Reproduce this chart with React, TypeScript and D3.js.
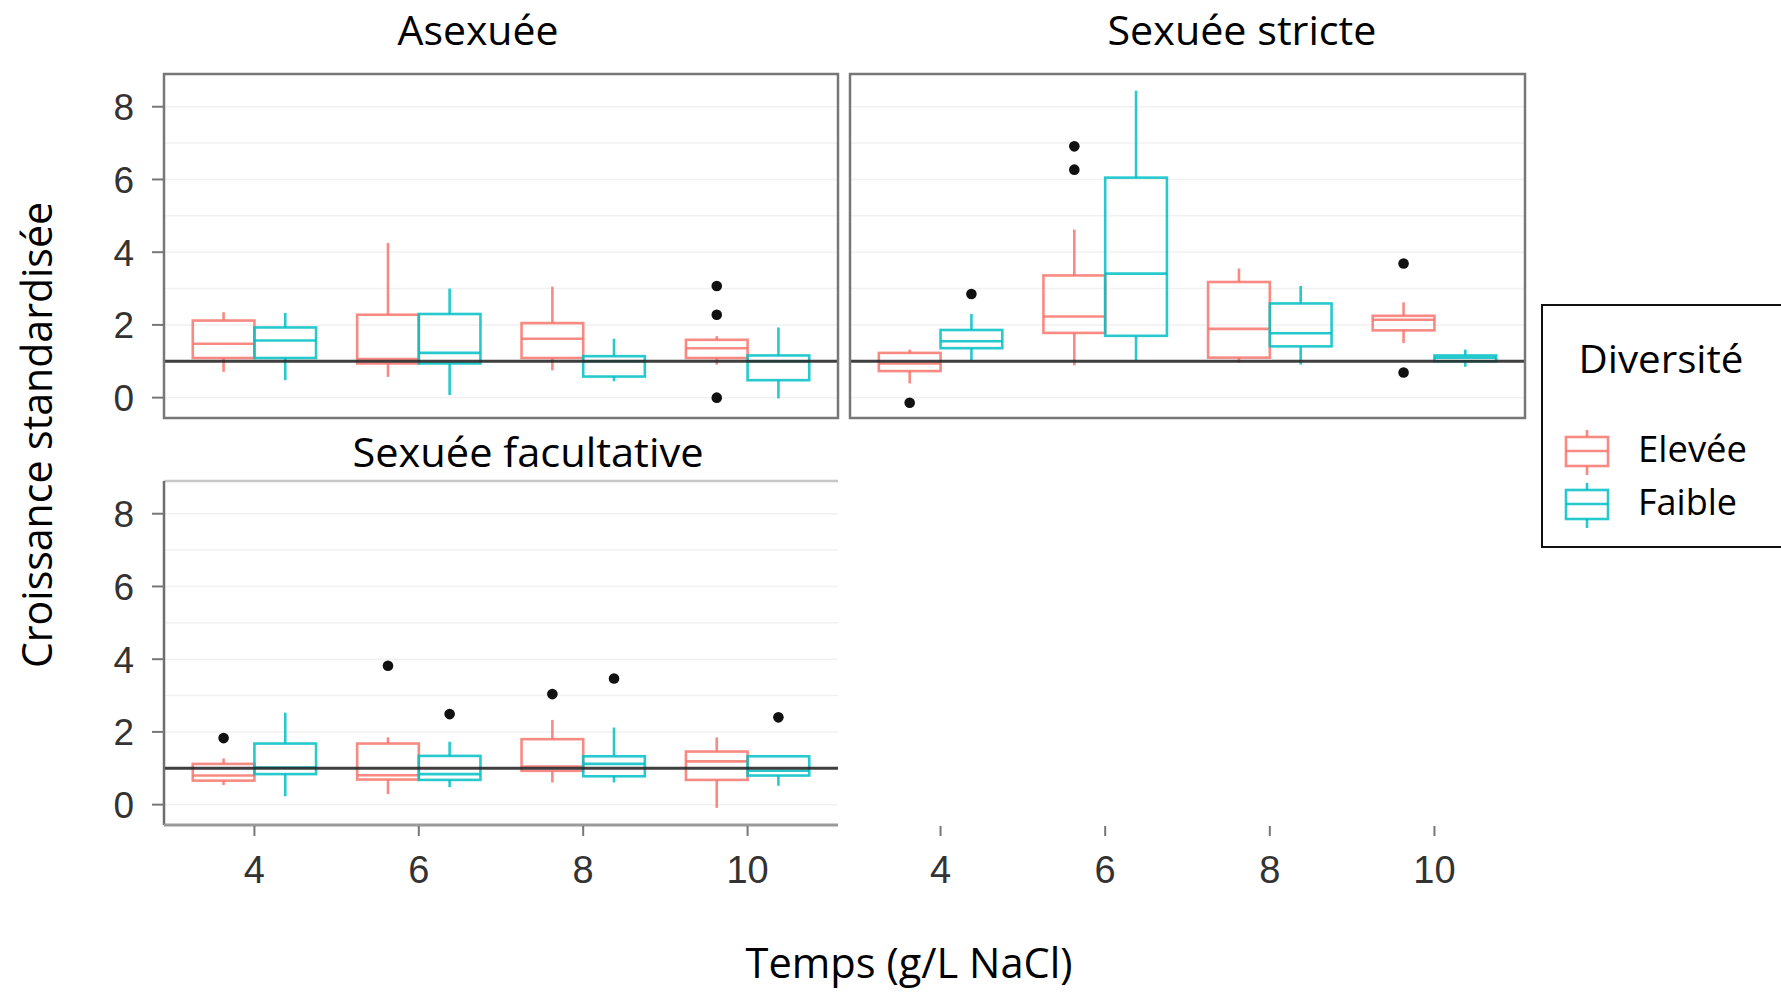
import React from 'react';
import * as d3 from 'd3';

const categories = ['4', '6', '8', '10'];
const groups = ['Elevée', 'Faible'];
const groupColors = ['#F8766D', '#00BFC4'];
const yTicks = [0, 2, 4, 6, 8];
const gridValues = [0, 1, 2, 3, 4, 5, 6, 7, 8];
const panelTitles = ['Asexuée', 'Sexuée stricte', 'Sexuée facultative'];
const refValue = 1;

// [lowerWhisker, q1, median, q3, upperWhisker] per category
const asexElevee = [[0.71, 1.09, 1.48, 2.12, 2.35], [0.57, 0.94, 1.06, 2.28, 4.25], [0.75, 1.09, 1.62, 2.05, 3.05], [0.91, 1.09, 1.36, 1.59, 1.69]];
const asexFaible = [[0.48, 1.09, 1.57, 1.93, 2.33], [0.07, 0.94, 1.23, 2.3, 3.0], [0.45, 0.58, 1.0, 1.14, 1.62], [-0.02, 0.48, 1.0, 1.16, 1.93]];
const asexOutElevee = [[], [], [], [3.07, 2.28, 0.0]];
const asexOutFaible = [[], [], [], []];

const strictElevee = [[0.39, 0.73, 0.94, 1.23, 1.32], [0.89, 1.78, 2.23, 3.36, 4.62], [0.96, 1.1, 1.89, 3.18, 3.55], [1.5, 1.85, 2.14, 2.25, 2.62]];
const strictFaible = [[1.03, 1.36, 1.55, 1.86, 2.3], [1.03, 1.7, 3.41, 6.05, 8.44], [0.91, 1.41, 1.77, 2.59, 3.07], [0.85, 1.0, 1.1, 1.16, 1.32]];
const strictOutElevee = [[-0.14], [6.91, 6.27], [], [3.69, 0.69]];
const strictOutFaible = [[2.85], [], [], []];

const facElevee = [[0.54, 0.66, 0.8, 1.12, 1.27], [0.29, 0.69, 0.81, 1.68, 1.85], [0.61, 0.93, 1.05, 1.8, 2.33], [-0.09, 0.68, 1.19, 1.46, 1.85]];
const facFaible = [[0.23, 0.84, 1.02, 1.68, 2.53], [0.48, 0.68, 0.84, 1.34, 1.73], [0.61, 0.78, 1.12, 1.33, 2.12], [0.52, 0.8, 0.93, 1.33, 1.33]];
const facOutElevee = [[1.83], [3.82], [3.04], []];
const facOutFaible = [[], [2.49], [3.47], [2.4]];

const W = 1781;
const H = 994;
const tickFont = '"Liberation Sans", Arial, sans-serif';
const titleFont = '"Open Sans", "Noto Sans", sans-serif';

type PanelProps = {
  left: number; right: number; top: number; bottom: number;
  title: string; titleX: number; titleY: number; titleLen: number;
  elevee: number[][]; faible: number[][];
  outE: number[][]; outF: number[][];
  showY: boolean; showX: boolean; xAxisY: number;
  facet: boolean;
};

function Panel(p: PanelProps) {
  const x = d3.scalePoint<string>().domain(categories).range([p.left, p.right]).padding(0.55);
  const y = d3.scaleLinear().domain([-0.56, 8.9]).range([p.bottom, p.top]);
  const step = x.step();
  const dodge = d3.scaleBand<string>().domain(groups).range([-0.375 * step, 0.375 * step]);
  const bw = dodge.bandwidth();
  const sets = [p.elevee, p.faible];
  const outs = [p.outE, p.outF];
  return (
    <g>
      {gridValues.map((v) => (
        <line key={'g' + v} x1={p.left} x2={p.right} y1={y(v)} y2={y(v)} stroke="#f1f1f1" strokeWidth={1.5} />
      ))}
      {sets.map((set, gi) => (
        <g key={'s' + gi} stroke={groupColors[gi]} strokeOpacity={0.85} fill="none" strokeWidth={2.6}>
          {set.map((s, ci) => {
            const cx = (x(categories[ci]) as number) + (dodge(groups[gi]) as number);
            const mid = cx + bw / 2;
            return (
              <g key={ci}>
                <line x1={mid} x2={mid} y1={y(s[4])} y2={y(s[3])} />
                <line x1={mid} x2={mid} y1={y(s[1])} y2={y(s[0])} />
                <rect x={cx} y={y(s[3])} width={bw} height={Math.max(1, y(s[1]) - y(s[3]))} />
                <line x1={cx} x2={cx + bw} y1={y(s[2])} y2={y(s[2])} />
              </g>
            );
          })}
        </g>
      ))}
      {outs.map((set, gi) =>
        set.map((vals, ci) =>
          vals.map((v, k) => {
            const cx = (x(categories[ci]) as number) + (dodge(groups[gi]) as number) + bw / 2;
            return <circle key={`o${gi}-${ci}-${k}`} cx={cx} cy={y(v)} r={5.3} fill="#111" />;
          })
        )
      )}
      <line x1={p.left} x2={p.right} y1={y(refValue)} y2={y(refValue)} stroke="#2a2a2a" strokeOpacity={0.9} strokeWidth={3} />
      {p.facet ? (
        <g>
          <line x1={p.left} x2={p.right} y1={p.top} y2={p.top} stroke="#c8c8c8" strokeWidth={2.5} />
          <line x1={p.left} x2={p.left} y1={p.top} y2={p.bottom} stroke="#6e6e6e" strokeWidth={2.5} />
          <line x1={p.left} x2={p.right} y1={p.bottom} y2={p.bottom} stroke="#9a9a9a" strokeWidth={3} />
        </g>
      ) : (
        <rect x={p.left} y={p.top} width={p.right - p.left} height={p.bottom - p.top} fill="none" stroke="#777" strokeWidth={2.5} />
      )}
      {p.showY && yTicks.map((v) => (
        <g key={'yt' + v}>
          <line x1={p.left - 12} x2={p.left} y1={y(v)} y2={y(v)} stroke="#777" strokeWidth={2} />
          <text x={p.left - 30} y={y(v)} dy="0.36em" textAnchor="end" fontFamily={tickFont} fontSize={37} fill="#333">{v}</text>
        </g>
      ))}
      {p.showX && categories.map((c) => (
        <g key={'xt' + c}>
          <line x1={x(c)} x2={x(c)} y1={p.xAxisY} y2={p.xAxisY + 10} stroke="#777" strokeWidth={2} />
          <text x={x(c)} y={p.xAxisY + 57} textAnchor="middle" fontFamily={tickFont} fontSize={38} fill="#333">{c}</text>
        </g>
      ))}
      <text x={p.titleX} y={p.titleY} textAnchor="middle" fontFamily={titleFont} fontSize={40} fill="#000"
        textLength={p.titleLen} lengthAdjust="spacingAndGlyphs">{p.title}</text>
    </g>
  );
}

export default function App() {
  return (
    <svg width={W} height={H} style={{ position: 'absolute', left: 0, top: 0, background: '#fff' }}>
      <rect x={0} y={0} width={W} height={H} fill="#fff" />
      <Panel left={164} right={838} top={74} bottom={418} title={panelTitles[0]} titleX={478} titleY={45} titleLen={161}
        elevee={asexElevee} faible={asexFaible} outE={asexOutElevee} outF={asexOutFaible}
        showY={true} showX={false} xAxisY={826} facet={false} />
      <Panel left={850} right={1525} top={74} bottom={418} title={panelTitles[1]} titleX={1242} titleY={45} titleLen={269}
        elevee={strictElevee} faible={strictFaible} outE={strictOutElevee} outF={strictOutFaible}
        showY={false} showX={true} xAxisY={826} facet={false} />
      <Panel left={164} right={838} top={481} bottom={825} title={panelTitles[2]} titleX={528} titleY={467} titleLen={351}
        elevee={facElevee} faible={facFaible} outE={facOutElevee} outF={facOutFaible}
        showY={true} showX={true} xAxisY={826} facet={true} />
      <text transform="translate(52,435) rotate(-90)" textAnchor="middle" fontFamily={titleFont} fontSize={42} fill="#000"
        textLength={466} lengthAdjust="spacingAndGlyphs">Croissance standardisée</text>
      <text x={909} y={978} textAnchor="middle" fontFamily={titleFont} fontSize={42} fill="#000"
        textLength={327} lengthAdjust="spacingAndGlyphs">Temps (g/L NaCl)</text>
      <g>
        <rect x={1542} y={305} width={260} height={242} fill="#fff" stroke="#111" strokeWidth={2} />
        <text x={1661} y={373} textAnchor="middle" fontFamily={titleFont} fontSize={38} fill="#000"
          textLength={165} lengthAdjust="spacingAndGlyphs">Diversité</text>
        {groups.map((g, i) => {
          const cy = 451 + i * 53;
          return (
            <g key={g}>
              <g stroke={groupColors[i]} strokeOpacity={0.85} fill="none" strokeWidth={2.6}>
                <line x1={1587} x2={1587} y1={cy - 21} y2={cy + 24} />
                <rect x={1566} y={cy - 14} width={42} height={29} fill="#fff" />
                <line x1={1566} x2={1608} y1={cy} y2={cy} />
              </g>
              <text x={1638} y={cy + 11} fontFamily={titleFont} fontSize={36} fill="#000"
                textLength={i === 0 ? 109 : 99} lengthAdjust="spacingAndGlyphs">{g}</text>
            </g>
          );
        })}
      </g>
    </svg>
  );
}
